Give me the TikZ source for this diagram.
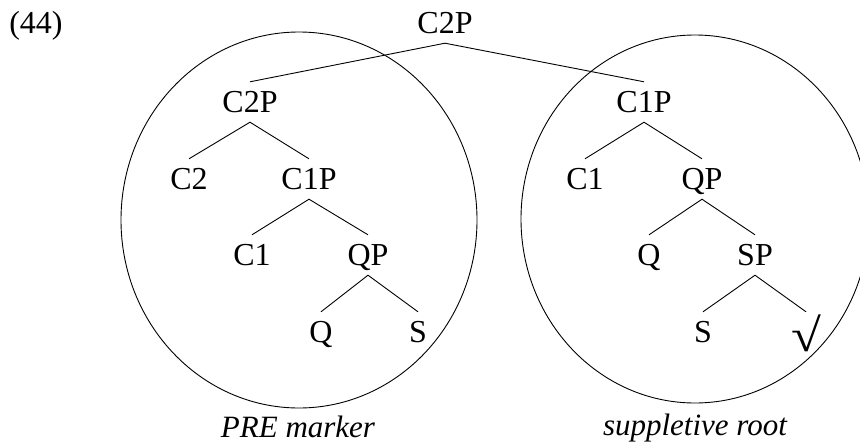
\documentclass[tikz,border=0pt]{standalone}
\usepackage{fontspec}
\setmainfont{Liberation Serif}
\begin{document}
\begin{tikzpicture}[x=1pt,y=-1pt,
  lab/.style={inner xsep=0pt, inner ysep=10pt, text height=20pt, text depth=0pt, font=\fontsize{32}{36}\selectfont},
  caption/.style={inner sep=0pt, anchor=base, font=\fontsize{31}{36}\selectfont\itshape},
  edge/.style={line width=0.9pt},
  ring/.style={line width=0.9pt}]
\useasboundingbox (0,0) rectangle (860,442);
\clip (0,0) rectangle (860,442);
% circles
\draw[ring] (299,220) ellipse [x radius=178, y radius=188];
\draw[ring] (695,219) ellipse [x radius=174, y radius=184];
% example number
\node[lab] (ex) at (36,23) {(44)};
% root
\node[lab] (root) at (445,23) {C2P};
% left tree
\node[lab] (lC2P) at (250,102) {C2P};
\node[lab] (lC2) at (189,179) {C2};
\node[lab] (lC1P) at (309,179) {C1P};
\node[lab] (lC1) at (252,255) {C1};
\node[lab] (lQP) at (368,255) {QP};
\node[lab] (lQ) at (321,332) {Q};
\node[lab] (lS) at (418,332) {S};
% right tree
\node[lab] (rC1P) at (644,102) {C1P};
\node[lab] (rC1) at (585,179) {C1};
\node[lab] (rQP) at (702,179) {QP};
\node[lab] (rQ) at (649,255) {Q};
\node[lab] (rSP) at (755,255) {SP};
\node[lab] (rS) at (703,332) {S};
\node[lab] (rR) at (806,332) {\raisebox{-9pt}{\scalebox{1.7}[1.45]{√}}};
% edges
\draw[edge] (lC2P.north) -- (root.south) -- (rC1P.north);
\draw[edge] (lC2.north) -- (lC2P.south) -- (lC1P.north);
\draw[edge] (lC1.north) -- (lC1P.south) -- (lQP.north);
\draw[edge] (lQ.north) -- (lQP.south) -- (lS.north);
\draw[edge] (rC1.north) -- (rC1P.south) -- (rQP.north);
\draw[edge] (rQ.north) -- (rQP.south) -- (rSP.north);
\draw[edge] (rS.north) -- (rSP.south) -- (rR.north);
% captions
\node[caption] (capL) at (298,437) {PRE marker};
\node[caption] (capR) at (695,435) {suppletive root};
\end{tikzpicture}
\end{document}
